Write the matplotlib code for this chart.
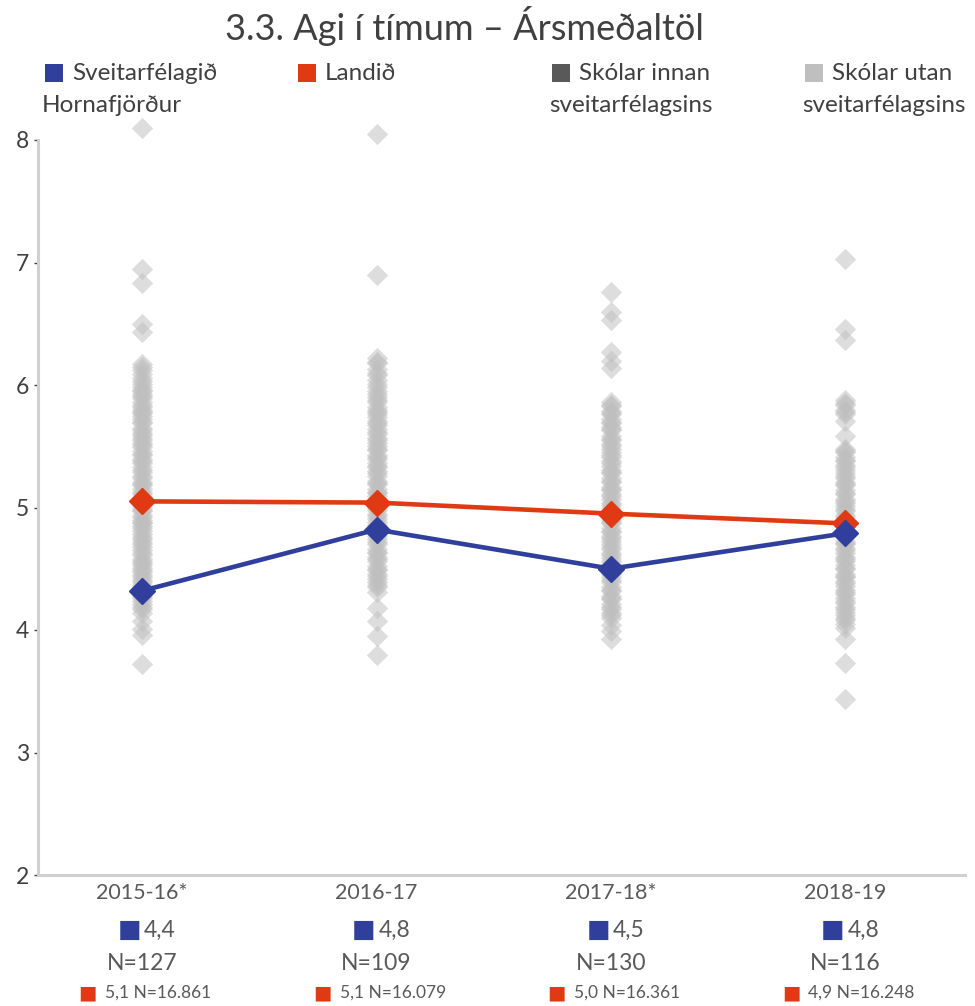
import matplotlib
matplotlib.use("Agg")
import matplotlib.pyplot as plt
from matplotlib.patches import Rectangle

# ---------------- data ----------------
categories = ["2015-16*", "2016-17", "2017-18*", "2018-19"]
hornafjordur = [4.32, 4.82, 4.50, 4.79]
landid = [5.05, 5.04, 4.95, 4.87]
hornafjordur_labels = ["4,4", "4,8", "4,5", "4,8"]
hornafjordur_n = ["N=127", "N=109", "N=130", "N=116"]
landid_labels = ["5,1 N=16.861", "5,1 N=16.079", "5,0 N=16.361", "4,9 N=16.248"]

utan_2015 = [8.10, 6.95, 6.83, 6.50, 6.43, 6.17, 6.15, 6.12, 6.09, 6.06, 6.03, 6.01,
             5.98, 5.96, 5.95, 5.93, 5.91, 5.89, 5.86, 5.84, 5.82, 5.80, 5.78, 5.77,
             5.75, 5.72, 5.70, 5.69, 5.65, 5.63, 5.61, 5.59, 5.57, 5.55, 5.53, 5.51,
             5.49, 5.46, 5.44, 5.43, 5.40, 5.38, 5.36, 5.33, 5.31, 5.29, 5.26, 5.24,
             5.21, 5.19, 5.18, 5.15, 5.13, 5.11, 5.08, 5.06, 5.04, 5.02, 5.00, 4.98,
             4.97, 4.94, 4.92, 4.90, 4.88, 4.87, 4.85, 4.83, 4.81, 4.78, 4.76, 4.74,
             4.72, 4.70, 4.68, 4.65, 4.63, 4.61, 4.58, 4.56, 4.55, 4.53, 4.51, 4.49,
             4.47, 4.45, 4.43, 4.41, 4.39, 4.37, 4.35, 4.33, 4.31, 4.28, 4.26, 4.24,
             4.21, 4.19, 4.17, 4.14, 4.07, 4.01, 3.96, 3.72]
utan_2016 = [8.05, 6.90, 6.22, 6.19, 6.18, 6.13, 6.10, 6.08, 6.04, 6.01, 5.98, 5.95,
             5.93, 5.90, 5.88, 5.86, 5.82, 5.80, 5.78, 5.76, 5.74, 5.71, 5.69, 5.67,
             5.64, 5.62, 5.60, 5.57, 5.55, 5.53, 5.50, 5.48, 5.47, 5.43, 5.41, 5.40,
             5.36, 5.34, 5.33, 5.30, 5.28, 5.26, 5.22, 5.20, 5.19, 5.15, 5.13, 5.12,
             5.09, 5.07, 5.05, 5.02, 5.00, 4.98, 4.95, 4.93, 4.91, 4.88, 4.86, 4.84,
             4.81, 4.79, 4.77, 4.74, 4.72, 4.70, 4.66, 4.64, 4.63, 4.60, 4.58, 4.56,
             4.52, 4.50, 4.49, 4.46, 4.44, 4.42, 4.39, 4.37, 4.35, 4.31, 4.18, 4.07,
             3.95, 3.80]
utan_2017 = [6.76, 6.60, 6.53, 6.27, 6.20, 6.14, 5.86, 5.84, 5.83, 5.79, 5.77, 5.76,
             5.72, 5.70, 5.69, 5.66, 5.64, 5.63, 5.58, 5.56, 5.55, 5.52, 5.50, 5.48,
             5.45, 5.43, 5.41, 5.38, 5.36, 5.34, 5.31, 5.29, 5.28, 5.24, 5.22, 5.21,
             5.17, 5.15, 5.14, 5.11, 5.09, 5.07, 5.04, 5.02, 5.00, 4.97, 4.95, 4.94,
             4.90, 4.88, 4.87, 4.83, 4.81, 4.80, 4.77, 4.75, 4.73, 4.70, 4.68, 4.66,
             4.63, 4.61, 4.59, 4.56, 4.54, 4.53, 4.49, 4.47, 4.46, 4.43, 4.41, 4.39,
             4.35, 4.33, 4.32, 4.28, 4.26, 4.25, 4.21, 4.19, 4.17, 4.14, 4.12, 4.10,
             4.04, 3.99, 3.93]
utan_2018 = [7.03, 6.46, 6.37, 5.88, 5.85, 5.84, 5.80, 5.78, 5.76, 5.71, 5.58, 5.48,
             5.46, 5.45, 5.41, 5.39, 5.38, 5.35, 5.33, 5.31, 5.28, 5.26, 5.24, 5.21,
             5.19, 5.18, 5.14, 5.12, 5.11, 5.07, 5.05, 5.04, 5.01, 4.99, 4.97, 4.94,
             4.92, 4.90, 4.87, 4.85, 4.84, 4.80, 4.78, 4.77, 4.73, 4.71, 4.70, 4.67,
             4.65, 4.63, 4.60, 4.58, 4.56, 4.53, 4.51, 4.50, 4.46, 4.44, 4.43, 4.40,
             4.38, 4.36, 4.33, 4.31, 4.29, 4.26, 4.24, 4.22, 4.19, 4.17, 4.15, 4.12,
             4.10, 4.08, 4.05, 4.02, 3.93, 3.73, 3.44]
utan_all = [utan_2015, utan_2016, utan_2017, utan_2018]

legend_labels = [("Sveitarfélagið", "Hornafjörður"), ("Landið", None),
                 ("Skólar innan", "sveitarfélagsins"), ("Skólar utan", "sveitarfélagsins")]

# ---------------- style ----------------
BLUE = "#2f3f9b"
RED = "#e03a14"
DARK = "#595959"
LIGHT = "#bfbfbf"
TXT = "#404040"
FONT = ["Lato", "DejaVu Sans"]
plt.rcParams["font.family"] = FONT

W, H = 975, 1006
fig = plt.figure(figsize=(W / 100, H / 100), dpi=100)
ax = fig.add_axes([38 / W, 1 - 875 / H, (965 - 38) / W, (875 - 140) / H])

# gray points
for i, vals in enumerate(utan_all):
    ax.scatter([i] * len(vals), vals, marker="D", s=118, color=LIGHT,
               alpha=0.52, linewidths=0, zorder=2, clip_on=False)

ax.plot(range(4), landid, color=RED, lw=3.3, marker="D", ms=13.5, zorder=4, clip_on=False)
ax.plot(range(4), hornafjordur, color=BLUE, lw=3.3, marker="D", ms=13.5, zorder=5, clip_on=False)

ax.set_xlim(-0.444, 3.51)
ax.set_ylim(2, 8)
ax.set_yticks([2, 3, 4, 5, 6, 7, 8])
ax.set_yticklabels(["2", "3", "4", "5", "6", "7", "8"], fontsize=16.5, color=TXT)
ax.set_xticks([])
ax.tick_params(axis="y", length=3, width=1, color=TXT, pad=3.5)
for s in ["top", "right"]:
    ax.spines[s].set_visible(False)
ax.spines["left"].set_color("#d0d0d0")
ax.spines["left"].set_linewidth(2.2)
ax.spines["bottom"].set_color("#d0d0d0")
ax.spines["bottom"].set_linewidth(2.2)
ax.patch.set_alpha(0)

# category labels below axis
xt = ax.get_xaxis_transform()
for i in range(4):
    ax.annotate(categories[i], xy=(i, 0), xycoords=xt, xytext=(0, -18), textcoords="offset pixels",
                ha="center", va="center", fontsize=15.5, color=DARK)
    ax.annotate("■", xy=(i, 0), xycoords=xt, xytext=(-1, -55), textcoords="offset pixels",
                ha="right", va="center", fontsize=18, color=BLUE, family="DejaVu Sans")
    ax.annotate(hornafjordur_labels[i], xy=(i, 0), xycoords=xt, xytext=(2, -55), textcoords="offset pixels",
                ha="left", va="center", fontsize=16.5, color=DARK)
    ax.annotate(hornafjordur_n[i], xy=(i, 0), xycoords=xt, xytext=(0, -88), textcoords="offset pixels",
                ha="center", va="center", fontsize=16.5, color=DARK)
    ax.annotate("■", xy=(i, 0), xycoords=xt, xytext=(-45, -118), textcoords="offset pixels",
                ha="right", va="center", fontsize=14, color=RED, family="DejaVu Sans")
    ax.annotate(landid_labels[i], xy=(i, 0), xycoords=xt, xytext=(-37, -118), textcoords="offset pixels",
                ha="left", va="center", fontsize=12.5, color=DARK)

# title
fig.text(464 / W, 1 - 26 / H, "3.3. Agi í tímum – Ársmeðaltöl", ha="center", va="center",
         fontsize=26, color=TXT)

# legend
leg_colors = [BLUE, RED, DARK, LIGHT]
leg_x = [45, 298, 552, 805]
for (l1, l2), c, x in zip(legend_labels, leg_colors, leg_x):
    fig.patches.append(Rectangle((x / W, 1 - 82 / H), 18 / W, 18 / H, transform=fig.transFigure,
                                 facecolor=c, edgecolor="none"))
    fig.text((x + 27) / W, 1 - 73 / H, l1, ha="left", va="center", fontsize=17.5, color=TXT)
    if l2:
        fig.text((x - 3) / W, 1 - 106 / H, l2, ha="left", va="center", fontsize=17.5, color=TXT)

fig.savefig("out.png", dpi=100)
